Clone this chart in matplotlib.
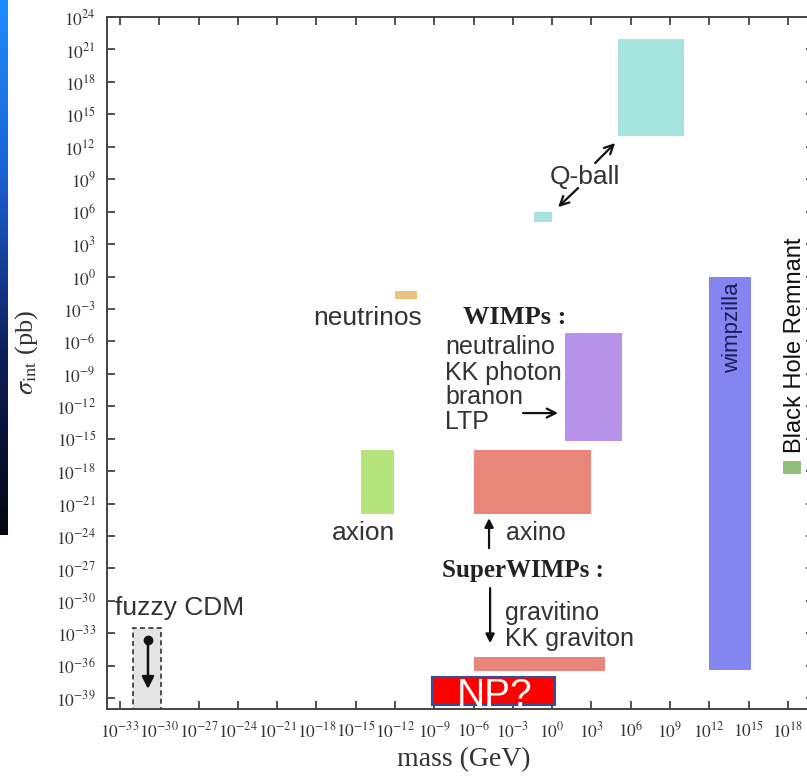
import matplotlib
matplotlib.use("Agg")
import matplotlib.pyplot as plt
from matplotlib.patches import Rectangle
from matplotlib.colors import LinearSegmentedColormap
import numpy as np

plt.rcParams['font.family'] = ['Liberation Sans', 'DejaVu Sans']
plt.rcParams['mathtext.fontset'] = 'stix'

# candidate regions, log10 of mass (GeV) and cross-section (pb)
names = ["Q-ball big", "Q-ball small", "neutrinos", "axion", "WIMPs",
         "axino", "gravitino", "wimpzilla", "BH remnant"]
m_lo = [5.0, -1.4, -12.0, -14.6, 1.0, -6.0, -6.0, 12.0, 17.6]
m_hi = [10.1, 0.0, -10.3, -12.1, 5.3, 3.0, 4.0, 15.2, 19.0]
s_lo = [13.0, 5.0, -2.1, -22.0, -15.2, -22.0, -36.5, -36.4, -18.3]
s_hi = [22.0, 6.0, -1.3, -16.0, -5.2, -16.0, -35.2, 0.0, -17.1]
colors = ["#a6e4df", "#a6e4df", "#e9c27e", "#b6e47c", "#b692ea",
          "#e8867c", "#e8867c", "#8585f2", "#92c07a"]

# fuzzy CDM box and its arrow
fuzzy_m = [-32.0, -29.85]
fuzzy_s = [-40.0, -32.5]
fuzzy_arrow_m = -30.87
fuzzy_arrow_s = [-33.6, -38.4]

# NP? overlay box
np_m = [-9.17, 0.22]
np_s = [-39.65, -37.05]

xticks = list(range(-33, 19, 3))
yticks = list(range(-39, 25, 3))

fig = plt.figure(figsize=(8.07, 7.79), dpi=100)
ax = fig.add_axes([107/807, 70/779, 707/807, 692/779])
ax.set_xscale('log')
ax.set_yscale('log')
ax.set_xlim(1e-34, 1e20)
ax.set_ylim(1e-40, 1e24)

for a, b, c, d, col in zip(m_lo, m_hi, s_lo, s_hi, colors):
    ax.fill_between([10**a, 10**b], 10**c, 10**d, color=col, lw=0, zorder=2)

ax.add_patch(Rectangle((10**fuzzy_m[0], 10**fuzzy_s[0]),
                       10**fuzzy_m[1] - 10**fuzzy_m[0],
                       10**fuzzy_s[1] - 10**fuzzy_s[0],
                       facecolor="#e4e4e4", edgecolor="#333333",
                       ls=(0, (3, 2)), lw=1.2, zorder=2))
ax.plot([10**fuzzy_arrow_m], [10**fuzzy_arrow_s[0]], 'o', color='#111111',
        ms=6, zorder=4)
ax.annotate("", xy=(10**fuzzy_arrow_m, 10**fuzzy_arrow_s[1]),
            xytext=(10**fuzzy_arrow_m, 10**fuzzy_arrow_s[0]),
            arrowprops=dict(arrowstyle='-|>', color='#111111', lw=1.8,
                            mutation_scale=18), zorder=4)

def arrow(x0, y0, x1, y1, style='->', ms=16):
    ax.annotate("", xy=(10**x1, 10**y1), xytext=(10**x0, 10**y0),
                arrowprops=dict(arrowstyle=style, color='#111111', lw=1.6,
                                mutation_scale=ms,
                                shrinkA=0, shrinkB=0), zorder=4)

tc = '#333333'
# Q-ball
ax.text(10**2.52, 10**9.2, "Q-ball", fontsize=19, ha='center', va='center', color=tc)
arrow(3.28, 10.49, 4.81, 12.34)
arrow(1.98, 8.18, 0.455, 6.42)

ax.text(10**-14.06, 10**-3.85, "neutrinos", fontsize=19, ha='center', va='center', color=tc)
ax.text(10**-14.44, 10**-23.73, "axion", fontsize=19, ha='center', va='center', color=tc)
ax.text(10**-33.39, 10**-30.67, "fuzzy CDM", fontsize=19, ha='left', va='center', color=tc)

# WIMPs
ax.text(10**-2.83, 10**-3.75, "WIMPs :", fontsize=19, ha='center', va='center',
        fontfamily='Liberation Serif', fontweight='bold', color='#222222')
wimp_list = ["neutralino", "KK photon", "branon", "LTP"]
wimp_y = [-6.53, -8.93, -11.15, -13.47]
for s, yy in zip(wimp_list, wimp_y):
    ax.text(10**-8.18, 10**yy, s, fontsize=18, ha='left', va='center', color=tc)
arrow(-2.22, -12.63, 0.45, -12.63)

# SuperWIMPs
arrow(-4.82, -25.12, -4.82, -22.35, style='-|>', ms=13)
ax.text(10**-3.52, 10**-23.73, "axino", fontsize=18, ha='left', va='center', color=tc)
ax.text(10**-2.22, 10**-27.16, "SuperWIMPs :", fontsize=18, ha='center', va='center',
        fontfamily='Liberation Serif', fontweight='bold', color='#222222')
arrow(-4.74, -28.82, -4.74, -33.91, style='-|>', ms=13)
ax.text(10**-3.6, 10**-31.13, "gravitino", fontsize=18, ha='left', va='center', color=tc)
ax.text(10**-3.6, 10**-33.54, "KK graviton", fontsize=18, ha='left', va='center', color=tc)

ax.text(10**13.75, 10**-0.51, "wimpzilla", fontsize=16, rotation=90,
        ha='center', va='top', color='#1c1c55')
ax.text(10**18.55, 10**-16.33, "Black Hole Remnant", fontsize=17, rotation=90,
        ha='center', va='bottom', color='#111111')

# NP? overlay
np_rect = Rectangle((10**np_m[0], 10**np_s[0]), 10**np_m[1] - 10**np_m[0],
                    10**np_s[1] - 10**np_s[0], facecolor='#ff0000',
                    edgecolor='#2f4f9f', lw=1.5, zorder=6)
ax.add_patch(np_rect)
t = ax.text(10**-4.4, 10**-39.7, "NP?", fontsize=28, color='white',
            ha='center', va='baseline', zorder=7)
t.set_clip_path(np_rect)

# axes styling
ax.set_xticks([10.0**k for k in xticks])
ax.set_xticklabels([r'$10^{%d}$' % k for k in xticks])
ax.set_yticks([10.0**k for k in yticks])
ax.set_yticklabels([r'$10^{%d}$' % k for k in yticks])
ax.minorticks_off()
ax.tick_params(which='major', direction='in', length=6, width=1.2,
               top=True, right=True, labelsize=12.5, colors='#333333',
               pad=8)
for sp in ax.spines.values():
    sp.set_color('#444444')
    sp.set_linewidth(1.4)

fig.text(27/807, 1 - 352/779, r'$\sigma_{\mathrm{int}}$ (pb)', rotation=90,
         ha='center', va='center', fontsize=19, fontfamily='Liberation Serif',
         color='#333333')
fig.text(464/807, 1 - 760/779, "mass (GeV)", ha='center', va='center',
         fontsize=20, fontfamily='Liberation Serif', color='#333333')

# slide edge strip on the left
strip = fig.add_axes([0, 1 - 535/779, 8/807, 535/779])
cmap = LinearSegmentedColormap.from_list("edge", ["#1e8cff", "#1a5fd0", "#0d1d5a", "#05070f"])
strip.imshow(np.linspace(0, 1, 100).reshape(-1, 1), aspect='auto', cmap=cmap)
strip.axis('off')

fig.savefig("out.png", dpi=100)
